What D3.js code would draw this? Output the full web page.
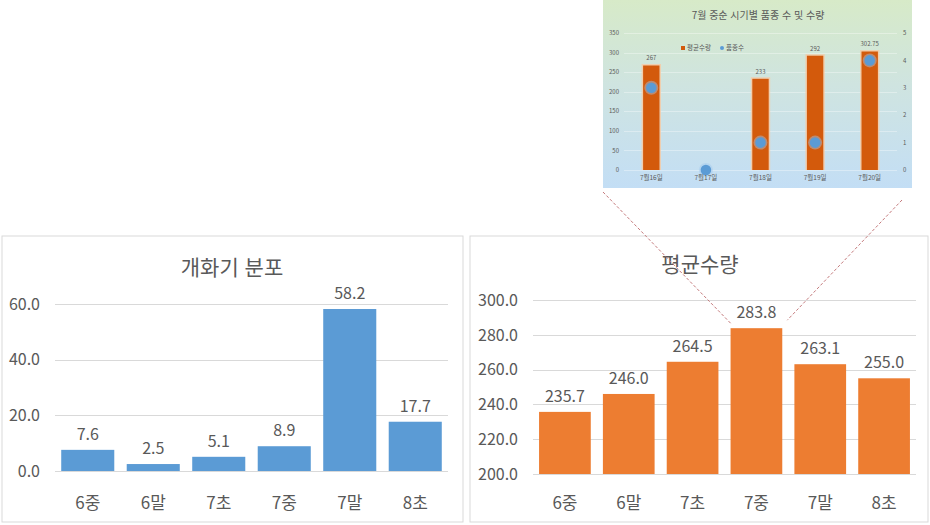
<!DOCTYPE html>
<html lang="ko">
<head>
<meta charset="UTF-8">
<title>개화기 분포 / 평균수량</title>
<script src="https://d3js.org/d3.v7.min.js"></script>
<style>
  body { margin: 0; background: #fff; }
  svg { display: block; font-family: "Noto Sans CJK KR", "Noto Sans", sans-serif; }
  text { fill: #595959; }
</style>
</head>
<body>
<div id="chart"></div>
<script>
// periods on the x axis of both main charts
const periods = ["6중", "6말", "7초", "7중", "7말", "8초"];
// 개화기 분포 (%)
const bloomShare = [7.6, 2.5, 5.1, 8.9, 58.2, 17.7];
const bloomTicks = [0, 20, 40, 60];
// 평균수량
const avgYield = [235.7, 246.0, 264.5, 283.8, 263.1, 255.0];
const yieldTicks = [200, 220, 240, 260, 280, 300];

// inset: mid July detail
const julyDays = ["7월16일", "7월17일", "7월18일", "7월19일", "7월20일"];
const julyYield = [267, null, 233, 292, 302.75];
const julyVarieties = [3, 0, 1, 1, 4];
const julyLeftTicks = [0, 50, 100, 150, 200, 250, 300, 350];
const julyRightTicks = [0, 1, 2, 3, 4, 5];

const width = 930, height = 525;
const svg = d3.select("#chart").append("svg")
    .attr("width", width)
    .attr("height", height);

// draw one framed bar chart panel
function barPanel(opt) {
    const g = svg.append("g");
    g.append("rect")
        .attr("x", opt.frame[0] + 0.5).attr("y", opt.frame[1] + 0.5)
        .attr("width", opt.frame[2]).attr("height", opt.frame[3])
        .attr("fill", "#fff").attr("stroke", "#d9d9d9");

    const x = d3.scaleBand().domain(periods)
        .range(opt.xRange).paddingInner(0.19).paddingOuter(0.095);
    const y = d3.scaleLinear().domain(opt.yDomain).range(opt.yRange);

    g.selectAll(".grid").data(opt.ticks).join("line")
        .attr("x1", opt.xRange[0]).attr("x2", opt.xRange[1])
        .attr("y1", d => Math.round(y(d)) + 0.5).attr("y2", d => Math.round(y(d)) + 0.5)
        .attr("stroke", "#d9d9d9");

    g.selectAll(".tick").data(opt.ticks).join("text")
        .attr("x", opt.tickX).attr("y", d => y(d))
        .attr("dy", "0.36em").attr("text-anchor", "end")
        .attr("font-size", 16)
        .text(d3.format(".1f"));

    g.selectAll(".bar").data(opt.values).join("rect")
        .attr("x", (d, i) => x(periods[i]))
        .attr("width", x.bandwidth())
        .attr("y", d => y(d))
        .attr("height", d => y(opt.yDomain[0]) - y(d))
        .attr("fill", opt.color);

    g.selectAll(".val").data(opt.values).join("text")
        .attr("x", (d, i) => x(periods[i]) + x.bandwidth() / 2)
        .attr("y", d => y(d) - 10)
        .attr("text-anchor", "middle").attr("font-size", 16)
        .text(d3.format(".1f"));

    g.selectAll(".cat").data(periods).join("text")
        .attr("x", d => x(d) + x.bandwidth() / 2)
        .attr("y", opt.catY)
        .attr("text-anchor", "middle").attr("font-size", 17)
        .text(d => d);

    g.append("text")
        .attr("x", opt.titleX).attr("y", opt.titleY)
        .attr("text-anchor", "middle").attr("font-size", 21)
        .text(opt.title);

    return { x, y };
}

barPanel({
    frame: [1.5, 235.5, 461, 286],
    xRange: [55, 448],
    yDomain: [0, 60], yRange: [471, 304],
    ticks: bloomTicks, tickX: 40,
    values: bloomShare, color: "#5b9bd5",
    catY: 509, title: "개화기 분포", titleX: 232, titleY: 275
});

const right = barPanel({
    frame: [469.5, 235.5, 458, 286],
    xRange: [533, 916],
    yDomain: [200, 300], yRange: [474, 300],
    ticks: yieldTicks, tickX: 518,
    values: avgYield, color: "#ed7d31",
    catY: 509, title: "평균수량", titleX: 700, titleY: 272
});

// ---- inset chart ----
const inset = { x: 603, y: 0, w: 309, h: 188 };
const defs = svg.append("defs");
const grad = defs.append("linearGradient").attr("id", "bg")
    .attr("x1", 0).attr("y1", 0).attr("x2", 0).attr("y2", 1);
grad.append("stop").attr("offset", "0%").attr("stop-color", "#d7eac8");
grad.append("stop").attr("offset", "45%").attr("stop-color", "#cfe4e0");
grad.append("stop").attr("offset", "100%").attr("stop-color", "#c3def5");

// dashed connector lines from inset to the 7중 bar
const mid = "7중";
const midTop = right.y(avgYield[periods.indexOf(mid)]);
svg.append("line")
    .attr("x1", inset.x).attr("y1", inset.h + 4)
    .attr("x2", right.x(mid)).attr("y2", midTop - 5)
    .attr("stroke", "#c47a7c").attr("stroke-dasharray", "3,2");
svg.append("line")
    .attr("x1", inset.x + inset.w - 10).attr("y1", inset.h + 12)
    .attr("x2", right.x(mid) + right.x.bandwidth() + 5).attr("y2", midTop - 8)
    .attr("stroke", "#c47a7c").attr("stroke-dasharray", "3,2");

const ig = svg.append("g");
ig.append("rect")
    .attr("x", inset.x).attr("y", inset.y)
    .attr("width", inset.w).attr("height", inset.h)
    .attr("fill", "url(#bg)");

const ix = d3.scaleBand().domain(julyDays)
    .range([624, 897]).paddingInner(0.7).paddingOuter(0.35);
const iyL = d3.scaleLinear().domain([0, 350]).range([170, 33]);
const iyR = d3.scaleLinear().domain([0, 5]).range([170, 33]);

ig.selectAll(".ig").data(julyLeftTicks).join("line")
    .attr("x1", 624).attr("x2", 897)
    .attr("y1", d => Math.round(iyL(d)) + 0.5).attr("y2", d => Math.round(iyL(d)) + 0.5)
    .attr("stroke", "#ffffff").attr("stroke-opacity", 0.35);

ig.selectAll(".il").data(julyLeftTicks).join("text")
    .attr("x", 619).attr("y", d => iyL(d)).attr("dy", "0.35em")
    .attr("text-anchor", "end").attr("font-size", 6)
    .text(d => d);
ig.selectAll(".ir").data(julyRightTicks).join("text")
    .attr("x", 903).attr("y", d => iyR(d)).attr("dy", "0.35em")
    .attr("text-anchor", "start").attr("font-size", 6)
    .text(d => d);

const bars = julyDays.map((d, i) => ({ day: d, v: julyYield[i] })).filter(d => d.v != null);
// soft glow behind bars
ig.selectAll(".glow").data(bars).join("rect")
    .attr("x", d => ix(d.day) - 1.5).attr("width", ix.bandwidth() + 3)
    .attr("y", d => iyL(d.v) - 1.5).attr("height", d => iyL(0) - iyL(d.v) + 1.5)
    .attr("fill", "#f8c9a3").attr("opacity", 0.8);
ig.selectAll(".ib").data(bars).join("rect")
    .attr("x", d => ix(d.day)).attr("width", ix.bandwidth())
    .attr("y", d => iyL(d.v)).attr("height", d => iyL(0) - iyL(d.v))
    .attr("fill", "#d35a0c");
ig.selectAll(".iv").data(bars).join("text")
    .attr("x", d => ix(d.day) + ix.bandwidth() / 2).attr("y", d => iyL(d.v) - 5)
    .attr("text-anchor", "middle").attr("font-size", 6)
    .text(d => d.v);

// points with a faint halo
ig.selectAll(".halo").data(julyVarieties).join("circle")
    .attr("cx", (d, i) => ix(julyDays[i]) + ix.bandwidth() / 2)
    .attr("cy", d => iyR(d))
    .attr("r", 7)
    .attr("fill", "#9fc8ee").attr("opacity", 0.45);
ig.selectAll(".dot").data(julyVarieties).join("circle")
    .attr("cx", (d, i) => ix(julyDays[i]) + ix.bandwidth() / 2)
    .attr("cy", d => iyR(d))
    .attr("r", 5.3)
    .attr("fill", "#5b9bd5");

ig.selectAll(".ic").data(julyDays).join("text")
    .attr("x", d => ix(d) + ix.bandwidth() / 2).attr("y", 180)
    .attr("text-anchor", "middle").attr("font-size", 6.5)
    .text(d => d);

ig.append("text")
    .attr("x", 758).attr("y", 18.5)
    .attr("text-anchor", "middle").attr("font-size", 10)
    .text("7월 중순 시기별 품종 수 및 수량");

// legend
const lg = ig.append("g").attr("transform", "translate(683,48)");
lg.append("rect").attr("x", -2).attr("y", -2).attr("width", 4).attr("height", 4).attr("fill", "#d35a0c");
lg.append("text").attr("x", 4).attr("dy", "0.35em").attr("font-size", 6.5).text("평균수량");
lg.append("circle").attr("cx", 39).attr("r", 2).attr("fill", "#5b9bd5");
lg.append("text").attr("x", 43).attr("dy", "0.35em").attr("font-size", 6.5).text("품종수");
</script>
</body>
</html>
